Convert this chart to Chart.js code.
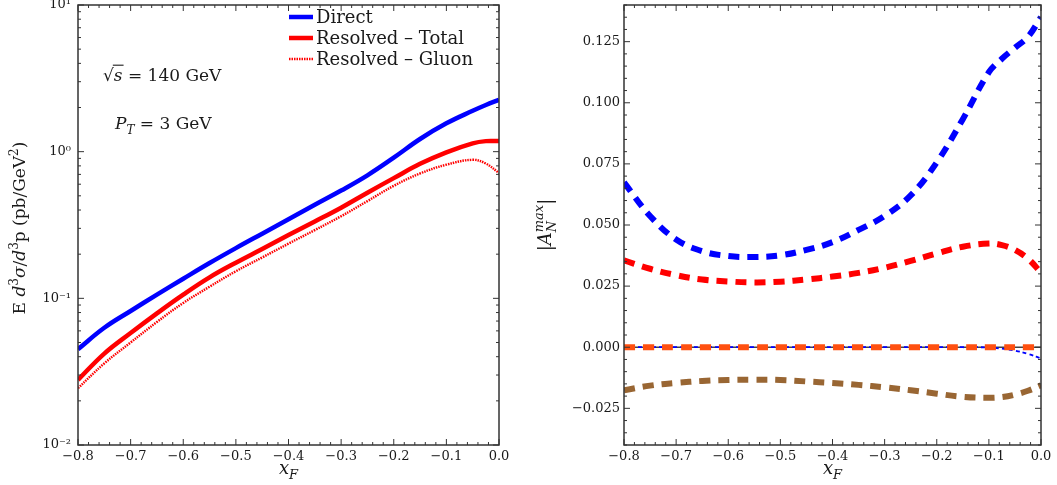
<!DOCTYPE html>
<html>
<head>
<meta charset="utf-8">
<script src="https://cdn.jsdelivr.net/npm/chart.js@4.4.1/dist/chart.umd.min.js"></script>
<style>
  html, body { margin: 0; padding: 0; background: #fff; width: 1057px; height: 485px; overflow: hidden; }
  .box { position: absolute; top: 0; height: 485px; }
  #left { left: 0; width: 520px; }
  #right { left: 530px; width: 527px; }
</style>
</head>
<body>
<div class="box" id="left"><canvas id="crossChart"></canvas></div>
<div class="box" id="right"><canvas id="asymChart"></canvas></div>
<script>
// ---- data ----
const xLeft = [-0.8, -0.75, -0.7, -0.65, -0.6, -0.55, -0.5, -0.45, -0.4, -0.35, -0.3, -0.25, -0.2, -0.15, -0.1, -0.05, -0.025, 0];
const direct = [0.045, 0.063, 0.082, 0.106, 0.136, 0.174, 0.220, 0.276, 0.346, 0.434, 0.543, 0.69, 0.91, 1.22, 1.56, 1.90, 2.08, 2.26];
const resolvedTotal = [0.0278, 0.042, 0.058, 0.079, 0.106, 0.139, 0.175, 0.217, 0.270, 0.334, 0.415, 0.525, 0.66, 0.826, 0.99, 1.14, 1.18, 1.18];
const resolvedGluon = [0.0244, 0.036, 0.050, 0.069, 0.093, 0.120, 0.153, 0.190, 0.236, 0.292, 0.363, 0.460, 0.585, 0.71, 0.815, 0.88, 0.83, 0.716];

const xRight = [-0.8, -0.75, -0.7, -0.65, -0.6, -0.55, -0.5, -0.45, -0.4, -0.35, -0.3, -0.25, -0.2, -0.15, -0.1, -0.075, -0.05, -0.025, 0];
const gpmQsf = [0.0674, 0.0537, 0.0441, 0.0393, 0.0373, 0.0369, 0.0376, 0.0398, 0.0430, 0.0480, 0.0537, 0.0621, 0.0756, 0.0933, 0.1125, 0.1180, 0.1225, 0.1270, 0.1350];
const gpmGsf = [0.0355, 0.0321, 0.0295, 0.0277, 0.0269, 0.0265, 0.0268, 0.0277, 0.0289, 0.0304, 0.0325, 0.0353, 0.0384, 0.0411, 0.0424, 0.0418, 0.0398, 0.0362, 0.0305];
const cgiQsf = [0, 0, 0, 0, 0, 0, 0, 0, 0, 0, 0, 0, 0, 0, -0.0001, -0.0006, -0.0014, -0.0027, -0.0046];
const cgiFGsf = [-0.0176, -0.0157, -0.0146, -0.0138, -0.0134, -0.0133, -0.0134, -0.0140, -0.0146, -0.0154, -0.0164, -0.0176, -0.0190, -0.0203, -0.0207, -0.0204, -0.0194, -0.0178, -0.0156];
const cgiDGsf = [0, 0, 0, 0, 0, 0, 0, 0, 0, 0, 0, 0, 0, 0, 0, 0, 0, 0, 0];

const xTicks = [-0.8, -0.7, -0.6, -0.5, -0.4, -0.3, -0.2, -0.1, 0];
const yTicksLeft = [0.01, 0.1, 1, 10];
const yTickLabelsLeft = ['10\u207B\u00B2', '10\u207B\u00B9', '10\u2070', '10\u00B9'];
const yTicksRight = [-0.025, 0, 0.025, 0.05, 0.075, 0.1, 0.125];

const FONT = '"DejaVu Serif", serif';
const INK = '#1a1a1a';

const pts = (xs, ys) => xs.map((x, i) => ({ x, y: ys[i] }));
const minus = (s) => s.replace('-', '\u2212');

// ---- rich text (italics, sub/superscripts) ----
function partFont(p, size) {
  const s = (p.sup || p.sub) ? Math.round(size * 0.7) : size;
  return (p.it ? 'italic ' : '') + s + 'px ' + FONT;
}

function layoutRich(ctx, parts, size) {
  let cx = 0, start = 0, wPrev = 0;
  const out = parts.map((p) => {
    ctx.font = partFont(p, size);
    const w = ctx.measureText(p.t).width;
    let x;
    if (p.stack) {
      x = start;
      wPrev = Math.max(wPrev, w);
      cx = start + wPrev;
    } else {
      x = cx;
      start = cx;
      wPrev = w;
      cx += w;
    }
    return { p, x, w };
  });
  return { out, width: cx };
}

function drawRich(ctx, parts, x, y, size, center) {
  const { out, width } = layoutRich(ctx, parts, size);
  const x0 = center ? x - width / 2 : x;
  ctx.textAlign = 'left';
  ctx.textBaseline = 'alphabetic';
  ctx.fillStyle = INK;
  out.forEach(({ p, x: px, w }) => {
    ctx.font = partFont(p, size);
    const dy = p.sup ? -size * 0.42 : p.sub ? size * 0.28 : 0;
    ctx.fillText(p.t, x0 + px, y + dy);
    if (p.over) {
      ctx.strokeStyle = INK;
      ctx.lineWidth = 1.1;
      ctx.beginPath();
      ctx.moveTo(x0 + px - 1, y - size * 0.93);
      ctx.lineTo(x0 + px + w + 1, y - size * 0.93);
      ctx.stroke();
    }
  });
}

const notes = {
  id: 'notes',
  afterDraw(chart, args, opts) {
    const ctx = chart.ctx;
    (opts.items || []).forEach((n) => {
      ctx.save();
      if (n.rotate) {
        ctx.translate(n.x, n.y);
        ctx.rotate(-Math.PI / 2);
        drawRich(ctx, n.parts, 0, 0, n.size, n.center);
      } else {
        drawRich(ctx, n.parts, n.x, n.y, n.size, n.center);
      }
      ctx.restore();
    });
  }
};

// ---- frame with inward ticks on all four sides ----
const frameTicks = {
  id: 'frameTicks',
  beforeDatasetsDraw(chart, args, opts) {
    if (!opts.zeroLine) return;
    const { ctx, chartArea: a, scales } = chart;
    const py = scales.y.getPixelForValue(0);
    ctx.save();
    ctx.strokeStyle = '#444';
    ctx.lineWidth = 1.5;
    ctx.beginPath();
    ctx.moveTo(a.left, py);
    ctx.lineTo(a.right, py);
    ctx.stroke();
    ctx.restore();
  },
  afterDatasetsDraw(chart, args, opts) {
    const { ctx, chartArea: a, scales } = chart;
    ctx.save();
    ctx.strokeStyle = '#333';
    ctx.lineWidth = 1;
    const seg = (x1, y1, x2, y2) => { ctx.beginPath(); ctx.moveTo(x1, y1); ctx.lineTo(x2, y2); ctx.stroke(); };

    const nx = Math.round((opts.xMax - opts.xMin) / opts.xMinor);
    for (let i = 0; i <= nx; i++) {
      const px = scales.x.getPixelForValue(opts.xMin + i * opts.xMinor);
      const len = i % opts.xEvery === 0 ? 6 : 3;
      seg(px, a.bottom, px, a.bottom - len);
      seg(px, a.top, px, a.top + len);
    }

    const marks = [];
    if (opts.log) {
      for (let e = opts.yMinExp; e < opts.yMaxExp; e++) {
        for (let m = 1; m <= 9; m++) marks.push({ v: m * Math.pow(10, e), major: m === 1 });
      }
      marks.push({ v: Math.pow(10, opts.yMaxExp), major: true });
    } else {
      const ny = Math.round((opts.yMax - opts.yMin) / opts.yMinor);
      for (let i = 0; i <= ny; i++) {
        const v = opts.yMin + i * opts.yMinor;
        const r = v / opts.yMajor;
        marks.push({ v, major: Math.abs(r - Math.round(r)) < 1e-6 });
      }
    }
    marks.forEach(({ v, major }) => {
      const py = scales.y.getPixelForValue(v);
      const len = major ? 6 : 3;
      seg(a.left, py, a.left + len, py);
      seg(a.right, py, a.right - len, py);
    });

    ctx.lineWidth = 1.5;
    ctx.strokeRect(a.left, a.top, a.width, a.height);
    ctx.restore();
  }
};

// ---- legend drawn inside the plot ----
const keyBox = {
  id: 'keyBox',
  afterDraw(chart, args, opts) {
    const ctx = chart.ctx;
    chart.data.datasets.forEach((ds, i) => {
      const y = opts.top + i * opts.step;
      ctx.save();
      ctx.strokeStyle = ds.borderColor;
      ctx.lineWidth = ds.borderWidth;
      ctx.setLineDash(ds.borderDash || []);
      ctx.beginPath();
      ctx.moveTo(opts.left, y);
      ctx.lineTo(opts.left + opts.len, y);
      ctx.stroke();
      ctx.restore();
      ctx.save();
      ctx.fillStyle = INK;
      ctx.font = opts.size + 'px ' + FONT;
      ctx.textBaseline = 'middle';
      ctx.textAlign = 'left';
      ctx.fillText(ds.label, opts.left + opts.len + 3, y + 1);
      ctx.restore();
    });
  }
};

const xAxis = {
  type: 'linear',
  min: -0.8,
  max: 0,
  grid: { display: false, drawTicks: false },
  border: { display: false },
  afterBuildTicks: (s) => { s.ticks = xTicks.map((v) => ({ value: v })); },
  afterFit: (s) => { s.height = 40; s.paddingLeft = 0; s.paddingRight = 0; },
  ticks: {
    autoSkip: false,
    maxRotation: 0,
    padding: 4,
    color: INK,
    font: { family: FONT, size: 13 },
    callback: (v) => (Math.abs(v) < 1e-9 ? '0.0' : minus(v.toFixed(1)))
  }
};

const xTitle = (cx) => ({
  parts: [{ t: 'x', it: true }, { t: 'F', it: true, sub: true }],
  x: cx, y: 474, size: 18, center: true
});

// Cross section (log scale)
const crossCtx = document.getElementById('crossChart');
if (crossCtx) {
  new Chart(crossCtx, {
    type: 'line',
    data: {
      datasets: [
        { label: 'Direct', data: pts(xLeft, direct), borderColor: '#0000ff', borderWidth: 4.5 },
        { label: 'Resolved \u2013 Total', data: pts(xLeft, resolvedTotal), borderColor: '#ff0000', borderWidth: 4.5 },
        { label: 'Resolved \u2013 Gluon', data: pts(xLeft, resolvedGluon), borderColor: '#ff0000', borderWidth: 2.4, borderDash: [1.5, 1] }
      ]
    },
    options: {
      responsive: true,
      maintainAspectRatio: false,
      animation: false,
      layout: { padding: { top: 5, right: 21, bottom: 0, left: 0 } },
      elements: { point: { radius: 0 }, line: { tension: 0.4, fill: false } },
      plugins: {
        legend: { display: false },
        tooltip: { enabled: false },
        keyBox: { left: 289, top: 17, step: 21, len: 24, size: 18 },
        frameTicks: { xMin: -0.8, xMax: 0, xMinor: 0.02, xEvery: 5, log: true, yMinExp: -2, yMaxExp: 1 },
        notes: {
          items: [
            xTitle(288.5),
            {
              parts: [{ t: 'E ' }, { t: 'd', it: true }, { t: '3', sup: true }, { t: '\u03C3', it: true }, { t: '/' },
                { t: 'd', it: true }, { t: '3', sup: true }, { t: 'p (pb/GeV' }, { t: '2', sup: true }, { t: ')' }],
              x: 25, y: 228, size: 17, rotate: true, center: true
            },
            { parts: [{ t: '\u221A' }, { t: 's', it: true, over: true }, { t: ' = 140 GeV' }], x: 103, y: 81, size: 17 },
            { parts: [{ t: 'P', it: true }, { t: 'T', it: true, sub: true }, { t: ' = 3 GeV' }], x: 115, y: 129, size: 17 }
          ]
        }
      },
      scales: {
        x: xAxis,
        y: {
          type: 'logarithmic',
          min: 0.01,
          max: 10,
          grid: { display: false, drawTicks: false },
          border: { display: false },
          afterBuildTicks: (s) => { s.ticks = yTicksLeft.map((v) => ({ value: v })); },
          afterFit: (s) => { s.width = 78; s.paddingTop = 0; s.paddingBottom = 0; },
          ticks: {
            autoSkip: false,
            padding: 7,
            color: INK,
            font: { family: FONT, size: 13 },
            callback: (v, i) => yTickLabelsLeft[i]
          }
        }
      }
    },
    plugins: [frameTicks, keyBox, notes]
  });
}

// Asymmetry (linear scale)
const asymCtx = document.getElementById('asymChart');
if (asymCtx) {
  new Chart(asymCtx, {
    type: 'line',
    data: {
      datasets: [
        { label: 'GPM \u2013 QSF', data: pts(xRight, gpmQsf), borderColor: '#0000ff', borderWidth: 6, borderDash: [11, 8], order: 4 },
        { label: 'GPM \u2013 GSF', data: pts(xRight, gpmGsf), borderColor: '#ff0000', borderWidth: 6, borderDash: [11, 8], order: 3 },
        { label: 'CGI GPM \u2013 QSF', data: pts(xRight, cgiQsf), borderColor: '#0000ff', borderWidth: 1.8, borderDash: [4, 3], order: 1 },
        { label: 'CGI GPM \u2013 f GSF', data: pts(xRight, cgiFGsf), borderColor: '#996633', borderWidth: 6, borderDash: [11, 8], order: 2 },
        { label: 'CGI GPM \u2013 d GSF', data: pts(xRight, cgiDGsf), borderColor: '#ff5010', borderWidth: 6, borderDash: [11, 8], order: 0 }
      ]
    },
    options: {
      responsive: true,
      maintainAspectRatio: false,
      animation: false,
      layout: { padding: { top: 5, right: 16, bottom: 0, left: 0 } },
      elements: { point: { radius: 0 }, line: { tension: 0.4, fill: false } },
      plugins: {
        legend: { display: false },
        tooltip: { enabled: false },
        keyBox: { left: 667, top: 17, step: 20.8, len: 26, size: 18 },
        frameTicks: { xMin: -0.8, xMax: 0, xMinor: 0.02, xEvery: 5, log: false, yMin: -0.04, yMax: 0.14, yMinor: 0.005, yMajor: 0.025, zeroLine: true },
        notes: {
          items: [
            xTitle(302.5),
            {
              parts: [{ t: '|' }, { t: 'A', it: true }, { t: 'N', it: true, sub: true }, { t: 'max', it: true, sup: true, stack: true }, { t: '|' }],
              x: 21, y: 225, size: 18, rotate: true, center: true
            }
          ]
        }
      },
      scales: {
        x: xAxis,
        y: {
          type: 'linear',
          min: -0.04,
          max: 0.14,
          grid: { display: false, drawTicks: false },
          border: { display: false },
          afterBuildTicks: (s) => { s.ticks = yTicksRight.map((v) => ({ value: v })); },
          afterFit: (s) => { s.width = 94; s.paddingTop = 0; s.paddingBottom = 0; },
          ticks: {
            autoSkip: false,
            padding: 4,
            color: INK,
            font: { family: FONT, size: 13 },
            callback: (v) => (Math.abs(v) < 1e-9 ? '0.000' : minus(v.toFixed(3)))
          }
        }
      }
    },
    plugins: [frameTicks, keyBox, notes]
  });
}
</script>
</body>
</html>
